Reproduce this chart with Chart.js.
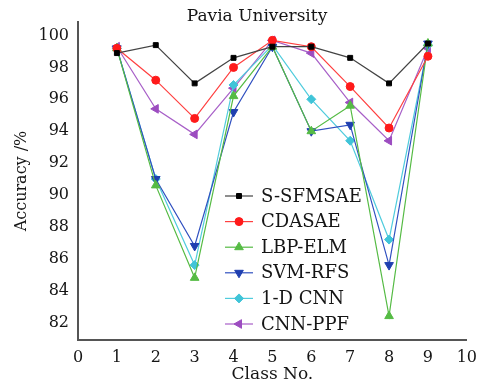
<!DOCTYPE html>
<html lang="en">

<head>
    <meta charset="UTF-8">
    <title>Pavia University</title>
    <script src="https://cdn.jsdelivr.net/npm/chart.js@4.4.0/dist/chart.umd.min.js"></script>
    <style>
        body { margin: 0; background: #fff; }
    </style>
</head>

<body>
    <canvas id="myChart" width="485" height="392"></canvas>

    <script>
        // values
        const classNo = [1, 2, 3, 4, 5, 6, 7, 8, 9];
        const yTicks = [82, 84, 86, 88, 90, 92, 94, 96, 98, 100];
        const sSfmsae = [98.9, 99.4, 97.0, 98.6, 99.3, 99.3, 98.6, 97.0, 99.5];
        const cdasae = [99.2, 97.2, 94.8, 98.0, 99.7, 99.3, 96.8, 94.2, 98.7];
        const lbpElm = [99.2, 90.6, 84.8, 96.2, 99.3, 94.0, 95.6, 82.4, 99.5];
        const svmRfs = [99.2, 91.0, 86.8, 95.2, 99.3, 94.0, 94.4, 85.6, 99.5];
        const cnn1d = [99.2, 91.0, 85.6, 96.9, 99.4, 96.0, 93.4, 87.2, 99.4];
        const cnnPpf = [99.3, 95.4, 93.8, 96.7, 99.7, 98.9, 95.8, 93.4, 99.2];

        const serif = "'DejaVu Serif', serif";
        const txt = '#151515';

        function makeSet(label, values, line, fill, style, radius, rotation) {
            return {
                label: label,
                data: classNo.map((c, i) => ({ x: c, y: values[i] })),
                borderColor: line,
                backgroundColor: fill,
                pointBackgroundColor: fill,
                pointBorderColor: fill,
                borderWidth: 1.2,
                pointStyle: style,
                pointRadius: radius,
                pointRotation: rotation,
                pointBorderWidth: 1
            };
        }

        // title drawn at its spot in the figure
        const titlePlugin = {
            id: 'figTitle',
            afterDraw(chart) {
                const ctx = chart.ctx;
                ctx.save();
                ctx.fillStyle = txt;
                ctx.font = '17px ' + serif;
                ctx.textAlign = 'center';
                ctx.textBaseline = 'middle';
                ctx.fillText('Pavia University', 257, 17);
                ctx.restore();
            }
        };

        // legend with line + marker, inside the plot
        const legendPlugin = {
            id: 'figLegend',
            afterDatasetsDraw(chart) {
                const ctx = chart.ctx;
                ctx.save();
                chart.data.datasets.forEach((ds, i) => {
                    const y = 196 + i * 25.6;
                    ctx.strokeStyle = ds.borderColor;
                    ctx.lineWidth = 1.2;
                    ctx.beginPath();
                    ctx.moveTo(225, y);
                    ctx.lineTo(253, y);
                    ctx.stroke();
                    ctx.fillStyle = ds.pointBackgroundColor;
                    ctx.strokeStyle = ds.pointBorderColor;
                    ctx.lineWidth = 1;
                    Chart.helpers.drawPoint(ctx, {
                        pointStyle: ds.pointStyle,
                        rotation: ds.pointRotation,
                        radius: ds.pointRadius,
                        borderWidth: 1
                    }, 239, y);
                    ctx.fillStyle = txt;
                    ctx.font = '18px ' + serif;
                    ctx.textAlign = 'left';
                    ctx.textBaseline = 'middle';
                    ctx.fillText(ds.label, 261, y + 1);
                });
                ctx.restore();
            }
        };

        const ctx = document.getElementById('myChart').getContext('2d');
        const myChart = new Chart(ctx, {
            type: 'line',
            data: {
                datasets: [
                    makeSet('S-SFMSAE', sSfmsae, '#444444', '#000000', 'rect', 3.5, 0),
                    makeSet('CDASAE', cdasae, '#ff4040', '#ff1a1a', 'circle', 4, 0),
                    makeSet('LBP-ELM', lbpElm, '#55bb44', '#55bb44', 'triangle', 5, 0),
                    makeSet('SVM-RFS', svmRfs, '#3050c0', '#1f3fb0', 'triangle', 5, 180),
                    makeSet('1-D CNN', cnn1d, '#50ccdd', '#40c4d8', 'rectRot', 4.5, 0),
                    makeSet('CNN-PPF', cnnPpf, '#a860c8', '#9c4cc0', 'triangle', 5, 270)
                ]
            },
            options: {
                responsive: false,
                animation: false,
                layout: { padding: { top: 22, right: 15, left: 0, bottom: 0 } },
                plugins: {
                    legend: { display: false },
                    tooltip: { enabled: false }
                },
                scales: {
                    x: {
                        type: 'linear',
                        min: 0,
                        max: 10,
                        grid: { display: false, drawTicks: false },
                        border: { display: true, color: '#555', width: 2 },
                        ticks: { stepSize: 1, padding: 8, color: txt, font: { family: serif, size: 16 } },
                        title: { display: true, text: 'Class No.', color: txt, font: { family: serif, size: 17 }, padding: { top: 0, bottom: 7 } },
                        afterFit(scale) { scale.height = 52; }
                    },
                    y: {
                        min: 80.9,
                        max: 100.85,
                        grid: { display: false, drawTicks: false },
                        border: { display: true, color: '#555', width: 2 },
                        afterBuildTicks(scale) { scale.ticks = yTicks.map(v => ({ value: v })); },
                        ticks: { padding: 9, color: txt, font: { family: serif, size: 16 } },
                        title: { display: true, text: 'Accuracy /%', color: txt, font: { family: serif, size: 16 }, padding: { top: 12, bottom: 0 } },
                        afterFit(scale) { scale.width = 78; }
                    }
                }
            },
            plugins: [titlePlugin, legendPlugin]
        });
    </script>
</body>

</html>
